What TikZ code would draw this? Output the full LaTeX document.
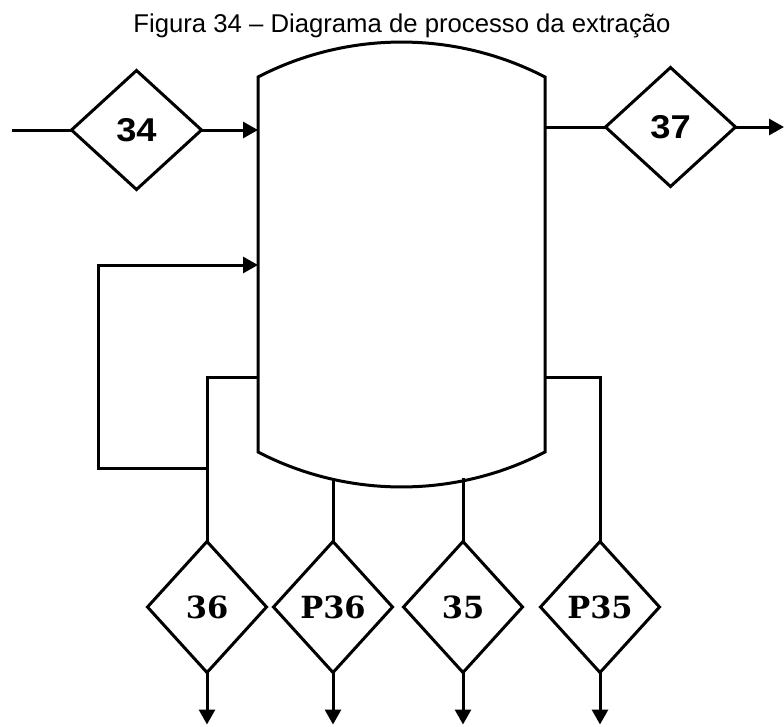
\documentclass[tikz,border=0pt]{standalone}
\usepackage{fontspec}
\setmainfont{Liberation Sans}
\newfontfamily\sansnum[FakeStretch=1.1]{Liberation Sans}
\newfontfamily\serifnum{DejaVu Serif}
\usetikzlibrary{shapes.geometric,arrows.meta}
\tikzset{
  flow/.style={line width=3pt},
  flowarr/.style={flow,-{Triangle[length=15pt,width=16pt]}},
  valve/.style={diamond,draw,line width=3pt,inner sep=0pt,outer sep=0pt},
  topvalve/.style={valve,minimum width=130pt,minimum height=119pt,font=\fontsize{33}{33}\selectfont\sansnum\bfseries},
  botvalve/.style={valve,minimum width=119pt,minimum height=131pt,font=\fontsize{30.5}{31}\selectfont\serifnum\bfseries}
}
\begin{document}
\begin{tikzpicture}[x=1pt,y=-1pt]
  \useasboundingbox (0,0) rectangle (784,726);
  \node[anchor=base,font=\fontsize{25.7}{26}\selectfont] (title) at (402,32) {Figura 34 -- Diagrama de processo da extração};
  \draw[flow,line join=miter] (258,452) -- (258,77) .. controls (347.9,30.4) and (455.1,30.4) .. (545,77)
    -- (545,452) .. controls (455.1,498.6) and (347.9,498.6) .. cycle;
  \coordinate (in1) at (258,130);
  \coordinate (in2) at (258,265);
  \coordinate (out1) at (545,127);
  \coordinate (outL) at (258,377);
  \coordinate (outR) at (545,377);
  \coordinate (b1) at (333,478);
  \coordinate (b2) at (463,478);
  \coordinate (rec) at (207,468);
  \coordinate (recl) at (98,468);
  \coordinate (feed) at (12,130);
  \coordinate (prod) at (784,127);
  \node[topvalve] (v34) at (136.5,130) {34};
  \node[topvalve] (v37) at (670.5,127) {37};
  \node[botvalve] (v36) at (207,607) {36};
  \node[botvalve] (vP36) at (333,607) {P36};
  \node[botvalve] (v35) at (463,607) {35};
  \node[botvalve] (vP35) at (600,607) {P35};
  \draw[flow] (feed) -- (v34);
  \draw[flowarr] (v34) -- (in1);
  \draw[flow] (out1) -- (v37);
  \draw[flowarr] (v37) -- (prod);
  \draw[flow,line join=miter] (outL) -| (v36);
  \draw[flow,line join=miter] (outR) -| (vP35);
  \draw[flowarr,line join=miter] (rec) -- (recl) |- (in2);
  \draw[flow] (b1) -- (vP36);
  \draw[flow] (b2) -- (v35);
  \foreach \v in {v36,vP36,v35,vP35}
    \draw[flowarr] (\v.south) -- ++(0,52);
\end{tikzpicture}
\end{document}
